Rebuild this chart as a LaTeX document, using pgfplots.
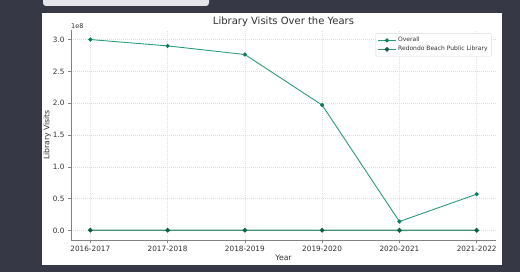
\documentclass[border=0pt]{standalone}
\usepackage{pgfplots}
\pgfplotsset{compat=1.18}
\usepackage{fontspec}
\setmainfont{DejaVu Sans}
\definecolor{bgdark}{RGB}{54,56,70}
\definecolor{panelgray}{RGB}{228,229,234}
\definecolor{lineA}{RGB}{42,158,118}
\definecolor{markA}{RGB}{10,128,88}
\definecolor{lineB}{RGB}{70,148,118}
\definecolor{markB}{RGB}{12,96,68}
\definecolor{axgray}{RGB}{130,130,130}
\definecolor{txt}{RGB}{50,50,50}
\begin{document}
\begin{tikzpicture}[x=1pt,y=1pt]
\useasboundingbox (0,0) rectangle (520,272);
\fill[bgdark] (0,0) rectangle (520,272);
\fill[panelgray, rounded corners=3pt] (43,266) rectangle (209,285);
\fill[white] (42,7) rectangle (502,259);
\begin{axis}[
  at={(71pt,32pt)}, anchor=south west,
  scale only axis, width=425pt, height=210pt,
  xmin=-0.25, xmax=5.25, ymin=-0.15e8, ymax=3.15e8,
  axis x line*=bottom, axis y line*=left,
  axis line style={axgray, line width=0.6pt, -},
  xtick={0,1,2,3,4,5},
  xticklabels={2016-2017,2017-2018,2018-2019,2019-2020,2020-2021,2021-2022},
  ytick={0,0.5e8,1e8,1.5e8,2e8,2.5e8,3e8},
  scaled y ticks=base 10:-8,
  ytick scale label code/.code={1e8},
  every y tick scale label/.style={at={(rel axis cs:0,1)}, anchor=south west, inner sep=0pt, yshift=1.5pt, font=\fontsize{6.5}{7}\selectfont, text=txt},
  yticklabel style={/pgf/number format/fixed, /pgf/number format/fixed zerofill, /pgf/number format/precision=1},
  /pgf/number format/assume math mode=true,
  tick align=outside, major tick length=3pt,
  tick style={axgray, line width=0.5pt},
  ticklabel style={font=\fontsize{7.3}{8}\selectfont, text=txt},
  grid=major,
  major grid style={gray!25, dash pattern=on 1.2pt off 0.8pt, line width=0.5pt},
  title={Library Visits Over the Years},
  every axis title shift=0pt,
  title style={font=\fontsize{10}{12}\selectfont, text=txt, at={(0.5,1)}, anchor=south, yshift=0pt},
  xlabel={Year}, ylabel={Library Visits},
  label style={font=\fontsize{7.7}{9}\selectfont, text=txt},
  xlabel shift=-4pt, ylabel shift=-5pt,
  legend style={at={(0.99,0.985)}, anchor=north east, draw=gray!30, rounded corners=2pt,
    font=\fontsize{6}{7}\selectfont, text=txt, row sep=-1pt, inner sep=2pt},
  legend cell align=left,
]
\addplot[lineA, line width=0.9pt, mark=*, mark size=1.6pt, mark options={markA, fill=markA, draw=markA}]
  coordinates {(0,3.00e8) (1,2.90e8) (2,2.765e8) (3,1.97e8) (4,0.14e8) (5,0.57e8)};
\addlegendentry{Overall}
\addplot[lineB, line width=1.3pt, mark=*, mark size=1.6pt, mark options={markB, fill=markB, draw=markB}]
  coordinates {(0,0.004e8) (1,0.0038e8) (2,0.0036e8) (3,0.0025e8) (4,0.0015e8) (5,0.002e8)};
\addlegendentry{Redondo Beach Public Library}
\end{axis}
\end{tikzpicture}
\end{document}
